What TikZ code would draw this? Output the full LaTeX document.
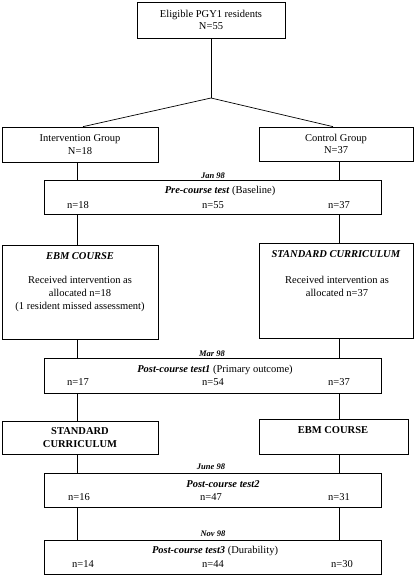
\documentclass[tikz,border=0pt]{standalone}
\usepackage{fontspec}
\setmainfont{Liberation Serif}

\tikzset{
	box/.style={draw, line width=0.7pt, inner sep=0pt, align=center,
		font=\fontsize{10.5}{12.5}\selectfont},
	txt/.style={inner sep=0pt, align=center, font=\fontsize{10.5}{12.5}\selectfont},
	datelbl/.style={inner sep=0pt, anchor=base, font=\fontsize{8.5}{10}\selectfont\bfseries\itshape},
	conn/.style={line width=0.7pt}
}

\begin{document}
\begin{tikzpicture}[x=1pt, y=-1pt]
			%%%%% START %%%%%
			\useasboundingbox (0,0) rectangle (416,576);
			
			\coordinate (colL) at (77,0);
			\coordinate (colR) at (339.5,0);
			\coordinate (split) at (211,98);
			
			\node[box, minimum width=148pt, minimum height=36pt] (elig) at (211,20) {Eligible PGY1 residents\\N=55};
			
			\node[box, minimum width=156pt, minimum height=35pt] (intv) at (80,144.5) {Intervention Group\\N=18};
			\node[box, minimum width=154pt, minimum height=34pt] (ctrl) at (336,144) {Control Group\\N=37};
			
			\draw[conn] (elig.south) -- (split);
			\draw[conn] (split) -- ([xshift=3pt]intv.north);
			\draw[conn] (split) -- ([xshift=-3pt]ctrl.north);
			
			% pre-course test
			\node[datelbl] (jan) at (213,178) {Jan 98};
			\node[box, minimum width=337pt, minimum height=34pt] (pre) at (212.5,197) {};
			\node[txt] (pretitle) at (220,191) {\textbf{\textit{Pre-course test}} (Baseline)};
			\node[txt] (preL) at (78,205) {n=18};
			\node[txt] (preM) at (213,205) {n=55};
			\node[txt] (preR) at (339,205) {n=37};
			
			% first period
			\node[box, minimum width=156pt, minimum height=94pt] (ebmA) at (80,292) {};
			\node[txt] (ebmAtitle) at (80,256) {\textbf{\textit{EBM COURSE}}};
			\node[txt, font=\fontsize{10.5}{13}\selectfont] (ebmAtext) at (80,294) {Received intervention as\\allocated n=18\\(1 resident missed assessment)};
			
			\node[box, minimum width=154pt, minimum height=95pt] (stdA) at (336,290.5) {};
			\node[txt] (stdAtitle) at (336,254) {\textbf{\textit{STANDARD CURRICULUM}}};
			\node[txt, font=\fontsize{10.5}{13}\selectfont] (stdAtext) at (337,286.5) {Received intervention as\\allocated n=37};
			
			% post-course test 1
			\node[datelbl] (mar) at (212,356) {Mar 98};
			\node[box, minimum width=337pt, minimum height=35pt] (postA) at (212.5,375.5) {};
			\node[txt] (postAtitle) at (215,370) {\textbf{\textit{Post-course test1}} (Primary outcome)};
			\node[txt] (postAL) at (78,382) {n=17};
			\node[txt] (postAM) at (213,382) {n=54};
			\node[txt] (postAR) at (339,382) {n=37};
			
			% cross-over
			\node[box, minimum width=156pt, minimum height=33pt] (stdB) at (80,437.5) {\textbf{STANDARD}\\\textbf{CURRICULUM}};
			\node[box, minimum width=149pt, minimum height=35pt] (ebmB) at (333.5,436.5) {};
			\node[txt] (ebmBtitle) at (333,430) {\textbf{EBM COURSE}};
			
			% post-course test 2
			\node[datelbl] (june) at (211,469) {June 98};
			\node[box, minimum width=337pt, minimum height=34pt] (postB) at (212.5,490) {};
			\node[txt] (postBtitle) at (223,484) {\textbf{\textit{Post-course test2}}};
			\node[txt] (postBL) at (79,497) {n=16};
			\node[txt] (postBM) at (211,497) {n=47};
			\node[txt] (postBR) at (339,497) {n=31};
			
			% post-course test 3
			\node[datelbl] (nov) at (213,536) {Nov 98};
			\node[box, minimum width=337pt, minimum height=34pt] (postC) at (212.5,557) {};
			\node[txt] (postCtitle) at (215,551) {\textbf{\textit{Post-course test3}} (Durability)};
			\node[txt] (postCL) at (83,564) {n=14};
			\node[txt] (postCM) at (213,564) {n=44};
			\node[txt] (postCR) at (342,564) {n=30};
			
			% left column
			\draw[conn] (intv.south -| colL) -- (pre.north -| colL);
			\draw[conn] (pre.south -| colL) -- (ebmA.north -| colL);
			\draw[conn] (ebmA.south -| colL) -- (postA.north -| colL);
			\draw[conn] (postA.south -| colL) -- (stdB.north -| colL);
			\draw[conn] (stdB.south -| colL) -- (postB.north -| colL);
			\draw[conn] (postB.south -| colL) -- (postC.north -| colL);
			
			% right column
			\draw[conn] (ctrl.south -| colR) -- (pre.north -| colR);
			\draw[conn] (pre.south -| colR) -- (stdA.north -| colR);
			\draw[conn] (stdA.south -| colR) -- (postA.north -| colR);
			\draw[conn] (postA.south -| colR) -- (ebmB.north -| colR);
			\draw[conn] (ebmB.south -| colR) -- (postB.north -| colR);
			\draw[conn] (postB.south -| colR) -- (postC.north -| colR);
			
			%%%%% END %%%%%
\end{tikzpicture}
\end{document}
